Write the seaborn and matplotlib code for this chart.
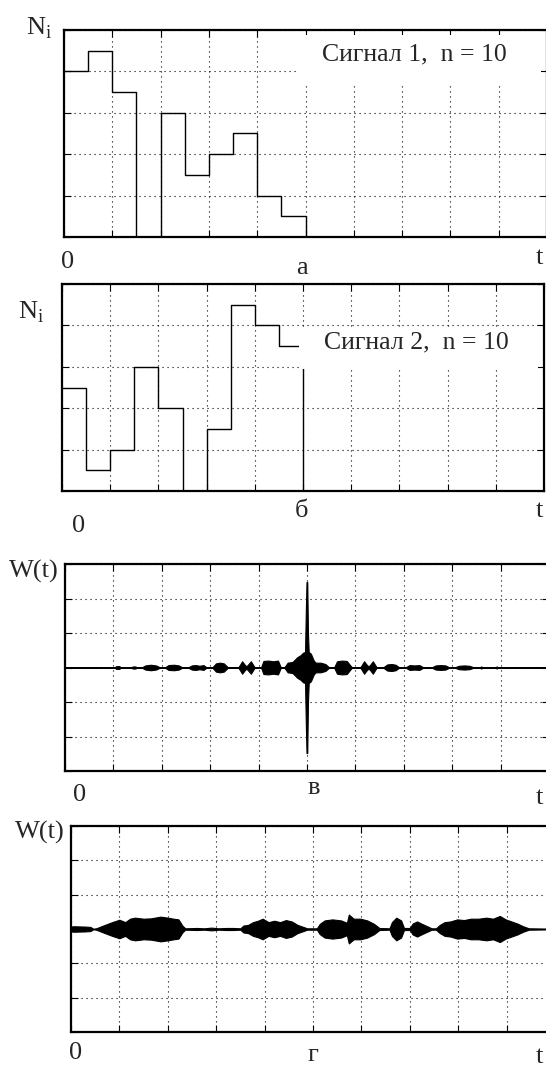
import numpy as np
import matplotlib
matplotlib.use("Agg")
import matplotlib.pyplot as plt
from matplotlib.patches import Rectangle
import seaborn as sns

sns.set_theme(style="white")
plt.rcParams['font.family'] = ['Liberation Serif', 'DejaVu Serif']
plt.rcParams['mathtext.fontset'] = 'custom'
plt.rcParams['mathtext.rm'] = 'Liberation Serif'

# --- data ---
bin_edges = [0, 0.5, 1.0, 1.5, 2.0, 2.5, 3.0, 3.5, 4.0, 4.5, 5.0]
sig1_vals = [4, 4.5, 3.5, 0, 3, 1.5, 2, 2.5, 1, 0.5]
sig2_vals = [2.5, 0.5, 1, 3, 2, 0, 1.5, 4.5, 4, 3.5]

# W(t) envelope, panel "в"
wc_t = [0, 1.02, 1.06, 1.12, 1.16, 1.35, 1.40, 1.45, 1.50, 1.58, 1.66, 1.77, 1.88, 1.97,
        2.06, 2.14, 2.25, 2.35, 2.43, 2.54, 2.62, 2.70, 2.78, 2.86, 2.93,
        3.04, 3.12, 3.20, 3.28, 3.37, 3.58, 3.66, 3.73, 3.76, 3.84, 3.92,
        4.05, 4.10, 4.20, 4.30, 4.40, 4.46, 4.53, 4.60, 4.70, 4.80, 4.86, 4.92, 4.96,
        4.975, 4.99, 5.005, 5.02, 5.035, 5.08, 5.14, 5.18, 5.28, 5.38, 5.46,
        5.56, 5.62, 5.72, 5.82, 5.93, 6.10, 6.18, 6.25, 6.29, 6.36, 6.44,
        6.57, 6.66, 6.75, 6.83, 6.91, 7.03, 7.12, 7.22, 7.32, 7.41,
        7.57, 7.66, 7.76, 7.86, 7.95, 8.04, 8.14, 8.25, 8.35, 8.46,
        8.56, 8.60, 8.64, 8.88, 8.92, 8.96, 10]
wc_amp = [0, 0, 0.04, 0.04, 0, 0, 0.03, 0.03, 0, 0, 0.06, 0.08, 0.06, 0,
          0, 0.07, 0.08, 0.06, 0, 0, 0.06, 0.07, 0.05, 0.07, 0,
          0, 0.12, 0.14, 0.12, 0, 0, 0.18, 0.05, 0.05, 0.18, 0,
          0, 0.19, 0.2, 0.18, 0.2, 0, 0, 0.14, 0.16, 0.3, 0.35, 0.43, 0.45,
          1.6, 2.48, 2.48, 1.0, 0.45, 0.4, 0.2, 0.14, 0.14, 0.1, 0,
          0, 0.18, 0.2, 0.19, 0, 0, 0.18, 0.05, 0.05, 0.18, 0,
          0, 0.09, 0.1, 0.08, 0, 0, 0.07, 0.06, 0.07, 0,
          0, 0.06, 0.07, 0.06, 0, 0, 0.05, 0.06, 0.05, 0,
          0, 0.03, 0, 0, 0.03, 0, 0]

# W(t) envelope, panel "г"
wd_t = [0, 0.05, 0.30, 0.40, 0.46, 0.52, 0.70, 0.85, 1.00, 1.12, 1.22, 1.32, 1.50,
        1.65, 1.85, 2.00, 2.12, 2.22, 2.30, 2.36, 2.60, 2.75, 2.90, 3.05, 3.20,
        3.35, 3.50, 3.56, 3.66, 3.76, 3.86, 3.96, 4.08, 4.20, 4.32, 4.44, 4.56,
        4.68, 4.80, 4.88, 5.08, 5.14, 5.24, 5.40, 5.58, 5.70, 5.74, 5.84, 5.98,
        6.12, 6.26, 6.37, 6.58, 6.63, 6.72, 6.82, 6.88, 7.00, 7.06, 7.15, 7.25,
        7.36, 7.45, 7.54, 7.62, 7.72, 7.84, 7.98, 8.12, 8.26, 8.42, 8.58, 8.72,
        8.86, 8.98, 9.10, 9.22, 9.34, 9.46, 10]
wd_amp = [0.07, 0.08, 0.07, 0.06, 0.01, 0.02, 0.12, 0.2, 0.27, 0.2, 0.3, 0.33, 0.3,
          0.31, 0.36, 0.33, 0.3, 0.28, 0.1, 0.02, 0.03, 0.02, 0.04, 0.02, 0.03,
          0.03, 0.02, 0.1, 0.12, 0.2, 0.24, 0.3, 0.2, 0.24, 0.2, 0.26, 0.22,
          0.12, 0.06, 0.02, 0.02, 0.15, 0.25, 0.28, 0.25, 0.18, 0.42, 0.3, 0.3,
          0.25, 0.15, 0.03, 0.02, 0.2, 0.33, 0.25, 0.03, 0.03, 0.16, 0.22, 0.15,
          0.08, 0.02, 0.02, 0.12, 0.2, 0.22, 0.28, 0.26, 0.3, 0.3, 0.33, 0.3,
          0.38, 0.28, 0.22, 0.16, 0.08, 0.02, 0.01]

W, H = 546, 1066
fig = plt.figure(figsize=(W / 100, H / 100), dpi=100)


def px(x, y):
    return x / W, 1 - y / H


def make_axes(left, right, top, bottom, ny, ylim):
    ax = fig.add_axes([left / W, 1 - bottom / H, (right - left) / W, (bottom - top) / H])
    ax.set_xlim(0, 10)
    ax.set_ylim(*ylim)
    ax.set_xticks(np.arange(0, 11))
    ax.set_yticks(np.linspace(ylim[0], ylim[1], ny + 1))
    ax.tick_params(direction='in', length=5, width=0.8, color='black', top=True, right=True,
                   bottom=True, left=True, labelbottom=False, labelleft=False)
    ax.grid(True, color='black', linestyle=(0, (1, 3.5)), linewidth=0.8)
    for s in ax.spines.values():
        s.set_color('black')
        s.set_linewidth(1.6)
    ax.set_facecolor('white')
    return ax


def step_xy(edges, vals):
    xs = list(edges) + [edges[-1]]
    ys = list(vals) + [vals[-1], 0]
    return xs, ys


lab = 19

# panel a
ax1 = make_axes(64, 547, 30, 237, 5, (0, 5))
x1, y1 = step_xy(bin_edges, sig1_vals)
sns.lineplot(x=x1, y=y1, drawstyle='steps-post', estimator=None, sort=False,
             color='black', linewidth=1.0, ax=ax1)
ax1.add_patch(Rectangle((4.85, 3.72), 5.02, 1.16, facecolor='white', edgecolor='none', zorder=3))
ax1.text(5.34, 4.42, "Сигнал 1,  n = 10", fontsize=18.5, ha='left', va='center', zorder=4)

# panel b
ax2 = make_axes(62, 544, 284, 491, 5, (0, 5))
x2, y2 = step_xy(bin_edges, sig2_vals)
sns.lineplot(x=x2, y=y2, drawstyle='steps-post', estimator=None, sort=False,
             color='black', linewidth=1.0, ax=ax2)
ax2.add_patch(Rectangle((4.92, 2.95), 4.95, 1.02, facecolor='white', edgecolor='none', zorder=3))
ax2.text(5.43, 3.58, "Сигнал 2,  n = 10", fontsize=18.5, ha='left', va='center', zorder=4)

# panel c
ax3 = make_axes(65, 549, 564, 771, 6, (-3, 3))
wc_a = np.array(wc_amp)
ax3.fill_between(wc_t, -wc_a, wc_a, color='black', linewidth=0.8, zorder=2)

# panel d
ax4 = make_axes(71, 555, 826, 1032, 6, (-3, 3))
wd_a = np.array(wd_amp)
ax4.fill_between(wd_t, -wd_a, wd_a, color='black', linewidth=0.8, zorder=2)

for a in (ax1, ax2, ax3, ax4):
    if a.get_legend() is not None:
        a.get_legend().remove()

# outer labels
fig.text(*px(26, 28), "N$_{\\mathrm{i}}$", fontsize=lab, ha='left', va='center')
fig.text(*px(68, 262), "0", fontsize=lab, ha='center', va='center')
fig.text(*px(302, 268), "а", fontsize=lab, ha='center', va='center')
fig.text(*px(539, 258), "t", fontsize=lab, ha='center', va='center')

fig.text(*px(18, 312), "N$_{\\mathrm{i}}$", fontsize=lab, ha='left', va='center')
fig.text(*px(79, 526), "0", fontsize=lab, ha='center', va='center')
fig.text(*px(302, 511), "б", fontsize=lab, ha='center', va='center')
fig.text(*px(539, 511), "t", fontsize=lab, ha='center', va='center')

fig.text(*px(9, 571), "W(t)", fontsize=lab, ha='left', va='center')
fig.text(*px(80, 795), "0", fontsize=lab, ha='center', va='center')
fig.text(*px(314, 788), "в", fontsize=lab, ha='center', va='center')
fig.text(*px(539, 798), "t", fontsize=lab, ha='center', va='center')

fig.text(*px(15, 832), "W(t)", fontsize=lab, ha='left', va='center')
fig.text(*px(76, 1053), "0", fontsize=lab, ha='center', va='center')
fig.text(*px(313, 1055), "г", fontsize=lab, ha='center', va='center')
fig.text(*px(539, 1057), "t", fontsize=lab, ha='center', va='center')

fig.savefig("out.png", dpi=100, facecolor='white')
